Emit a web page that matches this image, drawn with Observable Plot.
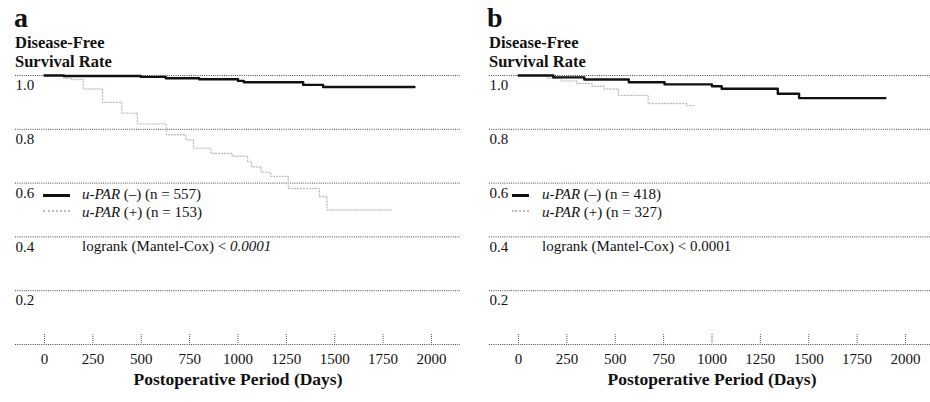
<!DOCTYPE html>
<html><head><meta charset="utf-8">
<script src="https://cdn.jsdelivr.net/npm/d3@7"></script>
<script src="https://cdn.jsdelivr.net/npm/@observablehq/plot@0.6"></script>
<style>
html,body{margin:0;padding:0;background:#fff;overflow:hidden;}
#wrap{position:relative;width:930px;height:402px;overflow:hidden;font-family:"Liberation Serif","DejaVu Serif",serif;color:#111;}
.panel{position:absolute;top:0;width:465px;height:402px;}
.panel svg{position:absolute;left:0;top:0;}
.abs{position:absolute;white-space:nowrap;}
.letter{font-weight:bold;font-size:28px;line-height:28px;}
.ytitle{font-weight:bold;font-size:16.5px;line-height:16px;height:16px;}
.leg{font-size:15px;line-height:15px;}
.sw{position:absolute;height:0;}
</style>
</head><body><div id="wrap"></div>
<script>
// ---- data ----
const xTicks = [0, 250, 500, 750, 1000, 1250, 1500, 1750, 2000];
const yTicks = [0.2, 0.4, 0.6, 0.8, 1.0];
const panelLetters = ["a", "b"];
const yTitleLines = ["Disease-Free", "Survival Rate"];
const xTitle = "Postoperative Period (Days)";
const nNeg = [557, 418];
const nPos = [153, 327];
const pValueText = "0.0001";

// panel a, u-PAR (-)
const aNegDays = [0, 100, 497, 627, 800, 1000, 1030, 1337, 1440, 1912];
const aNegSurv = [1.0, 0.998, 0.995, 0.99, 0.986, 0.98, 0.975, 0.965, 0.957, 0.957];
// panel a, u-PAR (+)
const aPosDays = [0, 100, 140, 200, 300, 400, 480, 630, 730, 770, 860, 970, 1050, 1070, 1120, 1170, 1260, 1420, 1460, 1790];
const aPosSurv = [1.0, 0.99, 0.985, 0.95, 0.9, 0.86, 0.82, 0.78, 0.76, 0.73, 0.71, 0.70, 0.68, 0.66, 0.64, 0.625, 0.58, 0.55, 0.50, 0.50];
// panel b, u-PAR (-)
const bNegDays = [0, 180, 340, 570, 755, 1000, 1050, 1340, 1450, 1896];
const bNegSurv = [1.0, 0.993, 0.985, 0.975, 0.967, 0.96, 0.951, 0.932, 0.916, 0.916];
// panel b, u-PAR (+)
const bPosDays = [0, 150, 220, 300, 380, 443, 516, 670, 870, 910];
const bPosSurv = [1.0, 0.99, 0.98, 0.97, 0.96, 0.95, 0.926, 0.896, 0.888, 0.888];

const series = [
  {neg: [aNegDays, aNegSurv], pos: [aPosDays, aPosSurv]},
  {neg: [bNegDays, bNegSurv], pos: [bPosDays, bPosSurv]}
];

// ---- layout (styling only) ----
const FONT = '"Liberation Serif","DejaVu Serif",serif';
const panelLeft = [0, 474];
const legendLayout = [{sw: 43, sww: 27, tx: 82}, {sw: 38, sww: 17, tx: 68}];
const pItalic = [true, false];

const toRows = ([days, surv]) => days.map((d, i) => ({day: d, surv: surv[i]}));

function abs(parent, cls, left, top, html) {
  const el = document.createElement("div");
  el.className = "abs " + cls;
  el.style.left = left + "px";
  el.style.top = top + "px";
  el.innerHTML = html;
  parent.appendChild(el);
  return el;
}

const wrap = document.getElementById("wrap");
series.forEach((s, i) => {
  const panel = document.createElement("div");
  panel.className = "panel";
  panel.style.left = panelLeft[i] + "px";
  wrap.appendChild(panel);

  const svg = Plot.plot({
    width: 465, height: 402,
    marginLeft: 15, marginRight: 5, marginTop: 75, marginBottom: 58,
    style: {fontFamily: FONT, fontSize: "15px", color: "#111", background: "transparent", overflow: "visible"},
    x: {domain: [-150, 2150], ticks: xTicks, tickSize: 0, tickPadding: 9, label: null, tickFormat: d => String(d)},
    y: {domain: [0, 1], axis: null},
    marks: [
      Plot.ruleY([0, ...yTicks], {stroke: "#444", strokeWidth: 1, strokeDasharray: "1 1.2"}),
      Plot.tickX(xTicks, {x: d => d, insetTop: 259, stroke: "#555", strokeDasharray: "1 1"}),
      Plot.text(yTicks, {y: d => d, frameAnchor: "left", textAnchor: "start", lineAnchor: "top", dy: 4, text: d => d.toFixed(1), fontSize: 15}),
      Plot.line(toRows(s.pos), {x: "day", y: "surv", curve: "step-after", stroke: "#c2c2c2", strokeWidth: 1.4, strokeDasharray: "1 2"}),
      Plot.line(toRows(s.neg), {x: "day", y: "surv", curve: "step-after", stroke: "#111", strokeWidth: 2.4}),
      Plot.text([xTitle], {frameAnchor: "bottom", dy: 40, text: d => d, fontWeight: "bold", fontSize: 17.5})
    ]
  });
  panel.appendChild(svg);

  abs(panel, "letter", 14 - (i ? 1 : 0), 3.6, panelLetters[i]);
  abs(panel, "ytitle", 15, 34.9, yTitleLines[0]);
  abs(panel, "ytitle", 15, 54.4, yTitleLines[1]);

  const L = legendLayout[i];
  const sw1 = abs(panel, "sw", L.sw, 194, "");
  sw1.style.width = L.sww + "px"; sw1.style.borderTop = "3px solid #111";
  const sw2 = abs(panel, "sw", L.sw, 210, "");
  sw2.style.width = L.sww + "px"; sw2.style.borderTop = "2px dotted #bbb";
  abs(panel, "leg", L.tx, 187.4, `<i>u-PAR</i> (–) (n = ${nNeg[i]})`);
  abs(panel, "leg", L.tx, 204.5, `<i>u-PAR</i> (+) (n = ${nPos[i]})`);
  abs(panel, "leg", L.tx, 238.5, `logrank (Mantel-Cox) &lt; ${pItalic[i] ? "<i>" + pValueText + "</i>" : pValueText}`);
});
</script>
</body></html>
